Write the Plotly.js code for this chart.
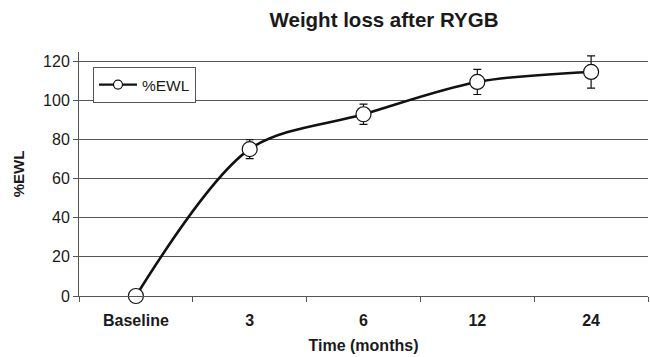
<!DOCTYPE html>
<html>
<head>
<meta charset="utf-8">
<script src="https://cdn.plot.ly/plotly-3.0.1.min.js"></script>
<style>html,body{margin:0;padding:0;background:#fff;}#chart{width:650px;height:357px;}</style>
</head>
<body>
<div id="chart"></div>
<script>
const categories = ["Baseline", "3", "6", "12", "24"];
const ewl = [0, 75, 92.8, 109.3, 114.4];
const ewlErr = [0, 4.8, 5.2, 6.4, 8.2];
const yTicks = [0, 20, 40, 60, 80, 100, 120];
const seriesName = "%EWL";

const font = "Liberation Sans, Arial, Helvetica, sans-serif";

const trace = {
  x: categories,
  y: ewl,
  name: seriesName,
  type: "scatter",
  mode: "lines+markers",
  showlegend: false,
  line: {color: "#111", width: 2.6, shape: "spline", smoothing: 0.9},
  marker: {symbol: "circle", size: 15, color: "#fff", line: {color: "#111", width: 1.2}},
  error_y: {type: "data", array: ewlErr, visible: true, color: "#111", thickness: 1.2, width: 4},
  cliponaxis: false
};

// legend-only entry with a smaller marker, as in the reference key
const legendTrace = {
  x: [categories[0]],
  y: [null],
  name: seriesName,
  type: "scatter",
  mode: "lines+markers",
  line: {color: "#111", width: 2.2},
  marker: {symbol: "circle", size: 9, color: "#fff", line: {color: "#111", width: 1.2}},
  hoverinfo: "skip"
};

const layout = {
  width: 650, height: 357,
  margin: {l: 79, r: 2, t: 52, b: 61},
  paper_bgcolor: "#fff", plot_bgcolor: "#fff",
  font: {family: font, color: "#1a1a1a", size: 16},
  title: {text: "<b>Weight loss after RYGB</b>", font: {family: font, size: 20.5, color: "#1a1a1a"},
          x: 384/650, xanchor: "center", y: 1 - 20/357, yanchor: "middle", xref: "container", yref: "container"},
  xaxis: {
    type: "category",
    range: [-0.5, 4.5],
    showgrid: false,
    showline: true, linecolor: "#555", linewidth: 1,
    ticks: "outside", ticklen: 5, tickcolor: "#555", tickson: "boundaries",
    ticklabelstandoff: 10,
    tickfont: {family: font, size: 16, color: "#1a1a1a", weight: "bold"},
    title: {text: "<b>Time (months)</b>", font: {family: font, size: 16, color: "#1a1a1a"}, standoff: 11},
    zeroline: false
  },
  yaxis: {
    range: [0, 124.6],
    tickvals: yTicks,
    showgrid: true, gridcolor: "#555", gridwidth: 1,
    showline: true, linecolor: "#555", linewidth: 1,
    ticks: "outside", ticklen: 5, tickcolor: "#555",
    tickfont: {family: font, size: 16, color: "#1a1a1a"},
    title: {text: "<b>%EWL</b>", font: {family: font, size: 15, color: "#1a1a1a"}, standoff: 14},
    zeroline: false
  },
  showlegend: true,
  legend: {
    x: 0.0246, y: 0.9385, xanchor: "left", yanchor: "top",
    bgcolor: "#fff", bordercolor: "#555", borderwidth: 1,
    font: {family: font, size: 15.5, color: "#1a1a1a"},
    itemwidth: 38,
    tracegroupgap: 0
  }
};

Plotly.newPlot("chart", [trace, legendTrace], layout, {displayModeBar: false, staticPlot: true});
</script>
</body>
</html>
